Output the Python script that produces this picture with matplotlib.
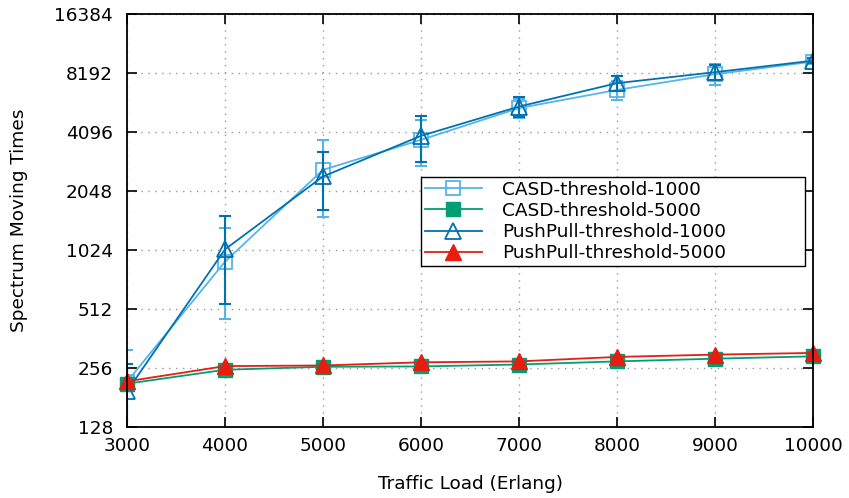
import numpy as np
import matplotlib
matplotlib.use("Agg")
import matplotlib.pyplot as plt
from matplotlib.ticker import FixedLocator, FixedFormatter

# данные
traffic = [3000, 4000, 5000, 6000, 7000, 8000, 9000, 10000]
casd_1000 = [219, 896, 2632, 3743, 5430, 6724, 8085, 9370]
casd_1000_err = [100, 440, 1110, 990, 600, 750, 1000, 250]
casd_5000 = [214, 252, 261, 262, 268, 278, 287, 295]
pushpull_1000 = [196, 1035, 2435, 3921, 5530, 7277, 8277, 9476]
pushpull_1000_err = [75, 490, 800, 1030, 620, 670, 730, 250]
pushpull_5000 = [220, 263, 265, 275, 278, 293, 301, 307]
y_ticks = [128, 256, 512, 1024, 2048, 4096, 8192, 16384]

fig = plt.figure(figsize=(8.49, 4.98), dpi=100)
ax = fig.add_axes([0.1496, 0.1416, 0.808, 0.8303])

lw = 1.3
fs = 13.3
# планки погрешностей отдельно, чтобы они не попали в легенду
ax.errorbar(traffic, casd_1000, yerr=casd_1000_err, fmt='none', ecolor='#56B4E9',
            capsize=4, elinewidth=1.5, capthick=1.5)
h1, = ax.plot(traffic, casd_1000, color='#56B4E9', marker='s', markersize=10,
              markerfacecolor='none', markeredgewidth=1.3, linewidth=lw, label='CASD-threshold-1000')
h2, = ax.plot(traffic, casd_5000, color='#009E73', marker='s', markersize=10, linewidth=lw,
              label='CASD-threshold-5000', clip_on=False)
ax.errorbar(traffic, pushpull_1000, yerr=pushpull_1000_err, fmt='none', ecolor='#0072B2',
            capsize=4, elinewidth=1.5, capthick=1.5)
h3, = ax.plot(traffic, pushpull_1000, color='#0072B2', marker='^', markersize=11,
              markerfacecolor='none', markeredgewidth=1.3, linewidth=lw, label='PushPull-threshold-1000')
h4, = ax.plot(traffic, pushpull_5000, color='#E51E10', marker='^', markersize=11, linewidth=lw,
              label='PushPull-threshold-5000', clip_on=False)

ax.set_yscale('log', base=2)
ax.set_ylim(128, 16384)
ax.set_xlim(3000, 10000)
ax.yaxis.set_major_locator(FixedLocator(y_ticks))
ax.yaxis.set_major_formatter(FixedFormatter([str(v) for v in y_ticks]))
ax.yaxis.set_minor_locator(FixedLocator([]))
ax.set_xticks(traffic)
ax.tick_params(direction='in', top=True, right=True, length=7, width=1.2, labelsize=fs)
ax.tick_params(axis='y', pad=10)
ax.tick_params(axis='x', pad=7)
ax.grid(True, linestyle=(0, (1, 4)), color='#999999', linewidth=1)
for s in ax.spines.values():
    s.set_linewidth(1.3)

ax.set_xlabel('Traffic Load (Erlang)', fontsize=fs)
ax.set_ylabel('Spectrum Moving Times', fontsize=fs)
ax.xaxis.set_label_coords(0.5, -0.115)
ax.yaxis.set_label_coords(-0.144, 0.5)

leg = ax.legend(handles=[h1, h2, h3, h4], loc='upper left',
                bbox_to_anchor=(0.428, 0.393, 0.5598, 0.2135), mode='expand',
                borderaxespad=0, fancybox=False, edgecolor='black', framealpha=1, fontsize=fs,
                handlelength=3.1, labelspacing=0.17, borderpad=0.22, handletextpad=1.1)
leg.get_frame().set_linewidth(1.0)

fig.savefig('out.png', dpi=100)
